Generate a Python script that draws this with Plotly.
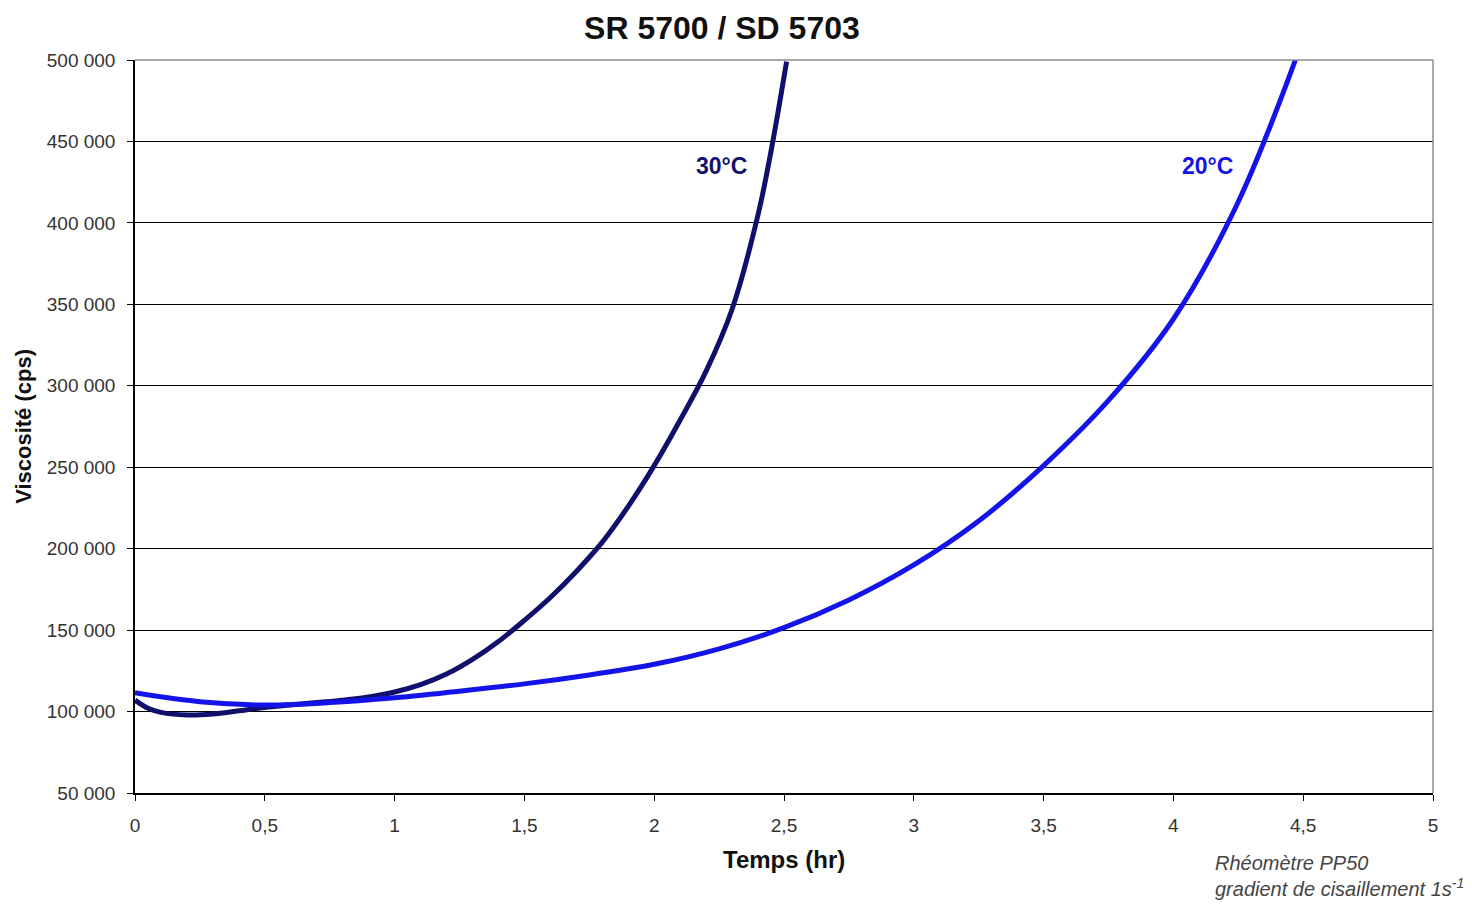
import plotly.graph_objects as go

# ---- data ----
x_30 = [0, 0.05, 0.1, 0.2, 0.3, 0.4, 0.5, 0.6, 0.7, 0.8, 0.9, 1.0, 1.1, 1.2, 1.3, 1.4,
        1.5, 1.6, 1.7, 1.8, 1.9, 2.0, 2.1, 2.2, 2.3, 2.4, 2.45, 2.51]
y_30 = [107000, 102000, 99500, 97900, 98500, 100500, 102500, 104000, 105500, 107000,
        109000, 112000, 116500, 123000, 132000, 143000, 156000, 170000, 186000, 204000,
        226000, 251000, 279000, 309000, 347000, 405000, 444000, 499000]

x_20 = [0, 0.25, 0.5, 0.75, 1.0, 1.25, 1.5, 1.75, 2.0, 2.25, 2.5, 2.75, 3.0, 3.25,
        3.5, 3.75, 4.0, 4.25, 4.47]
y_20 = [111500, 106000, 104000, 105500, 108500, 112500, 117000, 122500, 129000, 138500,
        151500, 168500, 190000, 217000, 251000, 291000, 341000, 413000, 500000]

series_names = ["30°C", "20°C"]
label_pos = [(2.26, 435000), (4.13, 435000)]

x_ticks = [0, 0.5, 1, 1.5, 2, 2.5, 3, 3.5, 4, 4.5, 5]
x_ticktext = ["0", "0,5", "1", "1,5", "2", "2,5", "3", "3,5", "4", "4,5", "5"]
y_ticks = [50000, 100000, 150000, 200000, 250000, 300000, 350000, 400000, 450000, 500000]
y_ticktext = ["50 000", "100 000", "150 000", "200 000", "250 000", "300 000",
              "350 000", "400 000", "450 000", "500 000"]

col_30 = "#10106c"
col_20 = "#1414ea"
FONT = "Liberation Sans, Arial, sans-serif"

fig = go.Figure()
fig.add_trace(go.Scatter(x=x_30, y=y_30, mode="lines", name=series_names[0],
                         line=dict(color=col_30, width=5, shape="spline", smoothing=1.0),
                         showlegend=False))
fig.add_trace(go.Scatter(x=x_20, y=y_20, mode="lines", name=series_names[1],
                         line=dict(color=col_20, width=5, shape="spline", smoothing=1.0),
                         showlegend=False))

for name, (lx, ly), c in zip(series_names, label_pos, [col_30, col_20]):
    fig.add_annotation(x=lx, y=ly, text="<b>%s</b>" % name, showarrow=False,
                       font=dict(family=FONT, size=23, color=c))

# axis titles
fig.add_annotation(xref="paper", yref="paper", x=0.5, y=-0.0914, text="<b>Temps (hr)</b>",
                   showarrow=False, font=dict(family=FONT, size=24, color="#111"),
                   xanchor="center", yanchor="middle")
fig.add_annotation(xref="paper", yref="paper", x=-0.086, y=0.5, text="<b>Viscosité (cps)</b>",
                   showarrow=False, textangle=-90,
                   font=dict(family=FONT, size=22, color="#111"),
                   xanchor="center", yanchor="middle")
# footnote
fig.add_annotation(xref="paper", yref="paper", x=0.8305, y=-0.113,
                   text="<i>Rhéomètre PP50<br>gradient de cisaillement 1s<sup>-1</sup></i>",
                   showarrow=False, align="left", xanchor="left", yanchor="middle",
                   font=dict(family=FONT, size=20, color="#444"))

# gray top/right border
fig.add_shape(type="line", xref="paper", yref="paper", x0=0, x1=1, y0=1, y1=1,
              line=dict(color="#8c8c8c", width=1.5), layer="above")
fig.add_shape(type="line", xref="paper", yref="paper", x0=1, x1=1, y0=0, y1=1,
              line=dict(color="#8c8c8c", width=1.5), layer="above")

fig.update_layout(
    width=1472, height=905,
    margin=dict(l=127, r=47, t=52, b=120),
    paper_bgcolor="white", plot_bgcolor="white",
    title=dict(text="<b>SR 5700 / SD 5703</b>", x=0.485, xanchor="center",
               y=1 - 20 / 905, yref="container", yanchor="middle",
               font=dict(family=FONT, size=32, color="#111")),
    font=dict(family=FONT),
    xaxis=dict(range=[0, 5], tickvals=x_ticks, ticktext=x_ticktext,
               showgrid=False, zeroline=False, showline=True, linecolor="black",
               linewidth=1.5, ticks="outside", ticklen=6, tickcolor="black",
               ticklabelstandoff=8,
               tickfont=dict(family=FONT, size=19, color="#333")),
    yaxis=dict(range=[50000, 500000], tickvals=y_ticks, ticktext=y_ticktext,
               showgrid=True, gridcolor="black", gridwidth=1, zeroline=False,
               showline=True, linecolor="black", linewidth=1.5,
               ticks="outside", ticklen=6, tickcolor="black",
               ticklabelstandoff=8,
               tickfont=dict(family=FONT, size=19, color="#333")),
)

fig.write_html("out.html")
